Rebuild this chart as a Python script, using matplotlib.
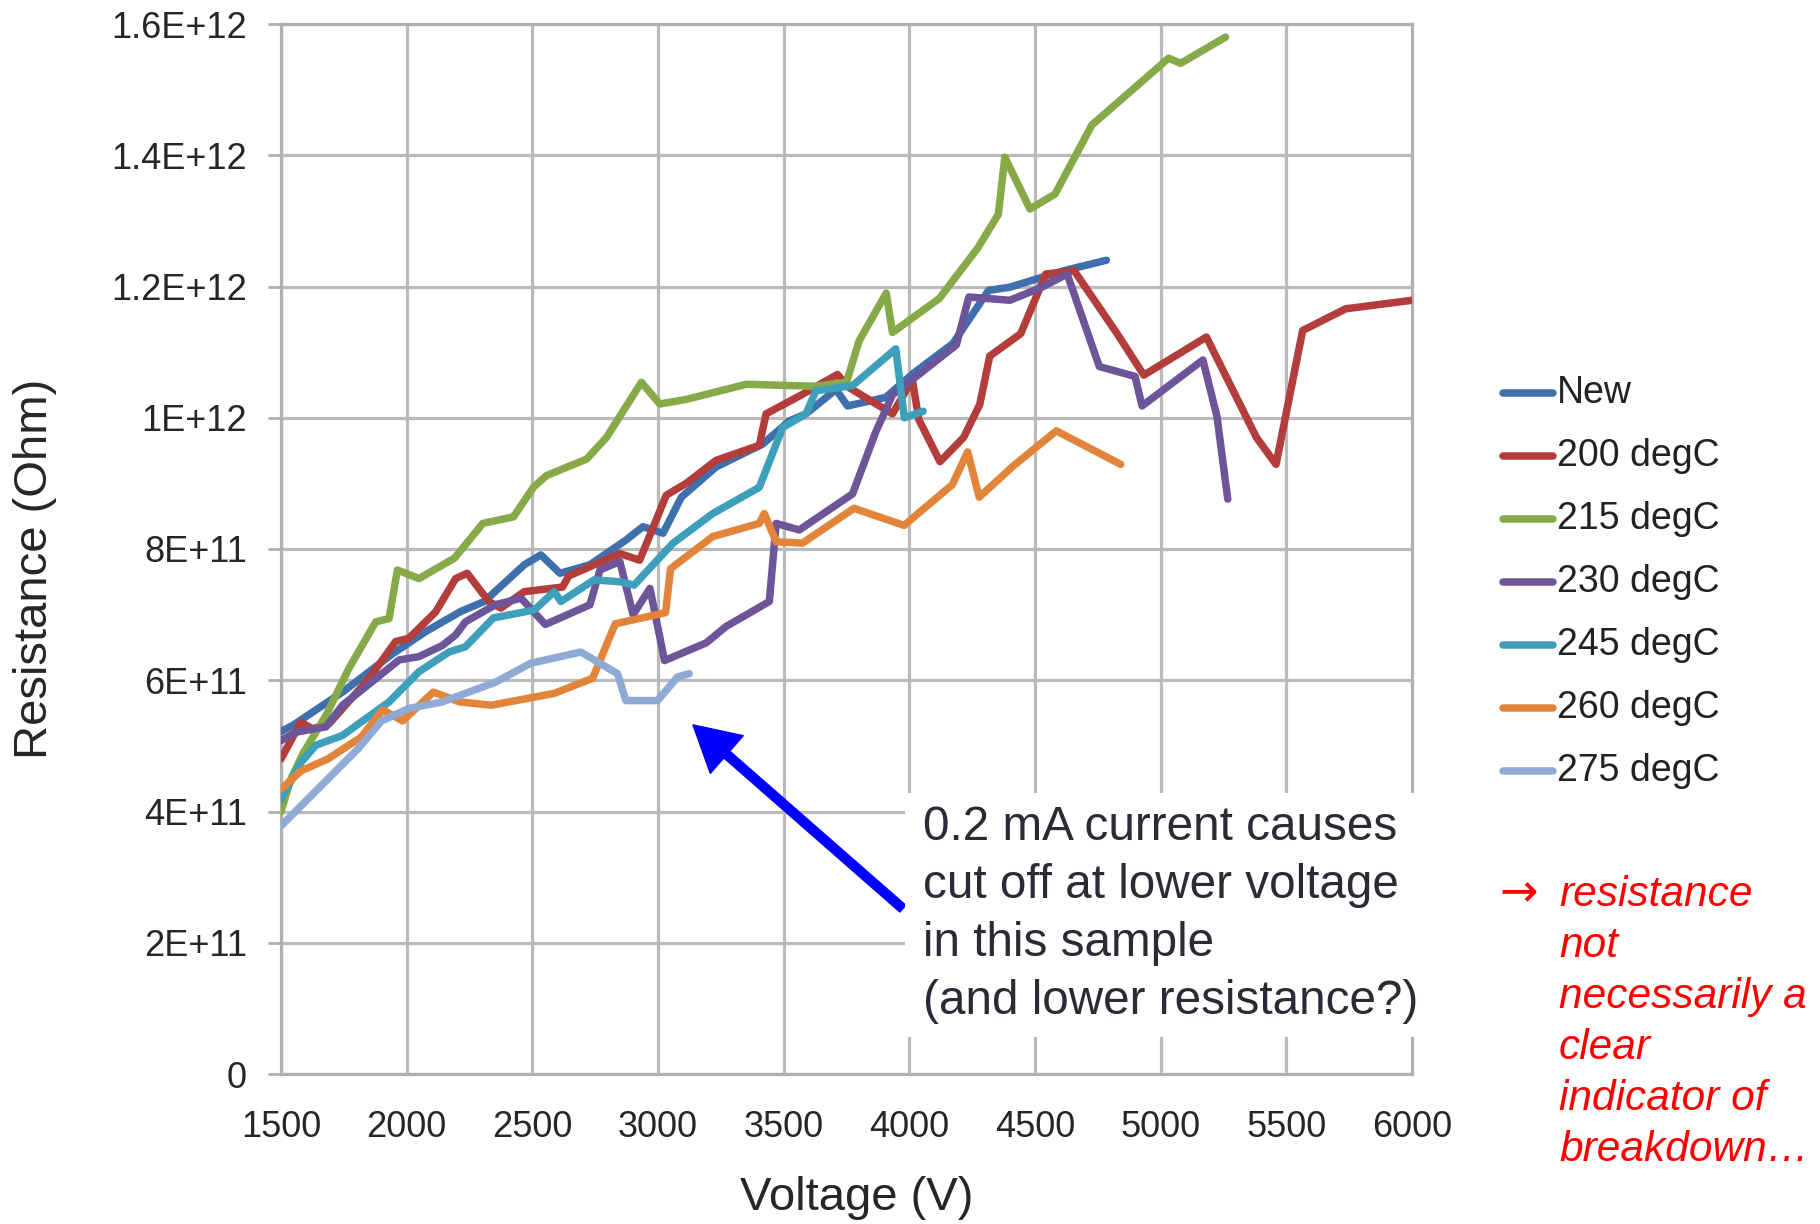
import matplotlib
matplotlib.use("Agg")
from matplotlib import pyplot as plt
from matplotlib.lines import Line2D
from matplotlib.patches import Rectangle

plt.rcParams['font.family'] = ['Liberation Sans', 'DejaVu Sans']

# voltage (V) / resistance (Ohm) per sample
v_new = [1500, 1546, 1745, 1943, 2075, 2216, 2309, 2468, 2534, 2610, 2729, 2874, 2940, 3020,
         3093, 3231, 3417, 3522, 3589, 3708, 3754, 3906, 4017, 4173, 4315, 4400, 4614, 4784]
r_new = [5.22e11, 5.31e11, 5.82e11, 6.40e11, 6.74e11, 7.05e11, 7.20e11, 7.76e11, 7.91e11, 7.63e11,
         7.76e11, 8.14e11, 8.34e11, 8.24e11, 8.79e11, 9.25e11, 9.60e11, 9.95e11, 1.006e12, 1.043e12,
         1.018e12, 1.031e12, 1.068e12, 1.113e12, 1.194e12, 1.199e12, 1.224e12, 1.240e12]

v_200 = [1500, 1579, 1626, 1692, 1851, 1956, 2009, 2115, 2195, 2241, 2327, 2375, 2468, 2620,
         2645, 2848, 2927, 3033, 3112, 3231, 3403, 3430, 3562, 3714, 3760, 3933, 4012, 4038,
         4122, 4216, 4280, 4320, 4443, 4543, 4656, 4827, 4933, 5182, 5381, 5459, 5565, 5736, 6000]
r_200 = [4.80e11, 5.36e11, 5.26e11, 5.34e11, 6.03e11, 6.59e11, 6.64e11, 7.04e11, 7.55e11, 7.63e11,
         7.20e11, 7.10e11, 7.35e11, 7.42e11, 7.59e11, 7.93e11, 7.83e11, 8.82e11, 9.00e11, 9.35e11,
         9.58e11, 1.006e12, 1.033e12, 1.066e12, 1.046e12, 1.006e12, 1.058e12, 9.97e11, 9.33e11,
         9.70e11, 1.020e12, 1.094e12, 1.128e12, 1.219e12, 1.224e12, 1.128e12, 1.065e12, 1.123e12,
         9.70e11, 9.29e11, 1.133e12, 1.166e12, 1.179e12]

v_215 = [1500, 1540, 1590, 1680, 1770, 1877, 1930, 1963, 2049, 2190, 2303, 2425, 2504, 2557,
         2716, 2795, 2934, 3007, 3113, 3351, 3628, 3750, 3800, 3908, 3933, 4120, 4273, 4354,
         4380, 4480, 4580, 4726, 5032, 5079, 5258]
r_215 = [4.00e11, 4.50e11, 4.90e11, 5.47e11, 6.18e11, 6.89e11, 6.94e11, 7.68e11, 7.55e11, 7.86e11,
         8.39e11, 8.49e11, 8.94e11, 9.12e11, 9.37e11, 9.70e11, 1.054e12, 1.021e12, 1.028e12,
         1.051e12, 1.048e12, 1.054e12, 1.117e12, 1.190e12, 1.130e12, 1.182e12, 1.259e12, 1.310e12,
         1.397e12, 1.318e12, 1.341e12, 1.446e12, 1.548e12, 1.540e12, 1.580e12]

v_230 = [1500, 1560, 1679, 1745, 1837, 1970, 2049, 2142, 2195, 2234, 2353, 2455, 2552, 2729,
         2769, 2848, 2901, 2968, 3026, 3192, 3271, 3443, 3470, 3562, 3774, 3866, 3933, 4045,
         4187, 4237, 4400, 4528, 4628, 4756, 4898, 4926, 5168, 5224, 5267]
r_230 = [5.08e11, 5.21e11, 5.29e11, 5.62e11, 5.90e11, 6.31e11, 6.36e11, 6.53e11, 6.69e11, 6.89e11,
         7.15e11, 7.25e11, 6.85e11, 7.15e11, 7.68e11, 7.81e11, 7.00e11, 7.40e11, 6.30e11, 6.57e11,
         6.82e11, 7.20e11, 8.39e11, 8.29e11, 8.84e11, 9.78e11, 1.035e12, 1.068e12, 1.111e12,
         1.184e12, 1.179e12, 1.199e12, 1.219e12, 1.078e12, 1.063e12, 1.018e12, 1.088e12, 1.002e12,
         8.76e11]

v_245 = [1500, 1580, 1639, 1745, 1930, 2049, 2168, 2234, 2345, 2508, 2587, 2614, 2746, 2852,
         2905, 3060, 3218, 3403, 3496, 3589, 3628, 3774, 3946, 3980, 4055]
r_245 = [4.19e11, 4.75e11, 5.01e11, 5.16e11, 5.67e11, 6.13e11, 6.43e11, 6.51e11, 6.95e11, 7.07e11,
         7.35e11, 7.20e11, 7.53e11, 7.50e11, 7.45e11, 8.09e11, 8.54e11, 8.94e11, 9.85e11, 1.006e12,
         1.041e12, 1.049e12, 1.105e12, 1.000e12, 1.010e12]

v_260 = [1500, 1580, 1686, 1818, 1905, 1984, 2106, 2210, 2337, 2587, 2740, 2830, 3030, 3050,
         3218, 3403, 3423, 3470, 3575, 3780, 3979, 4171, 4232, 4278, 4415, 4585, 4841]
r_260 = [4.34e11, 4.62e11, 4.80e11, 5.13e11, 5.55e11, 5.38e11, 5.82e11, 5.67e11, 5.62e11, 5.80e11,
         6.03e11, 6.86e11, 7.03e11, 7.70e11, 8.19e11, 8.39e11, 8.54e11, 8.11e11, 8.09e11, 8.62e11,
         8.36e11, 8.98e11, 9.48e11, 8.79e11, 9.27e11, 9.80e11, 9.29e11]

v_275 = [1500, 1805, 1900, 2009, 2142, 2353, 2494, 2693, 2839, 2872, 2998, 3078, 3124]
r_275 = [3.78e11, 4.95e11, 5.38e11, 5.57e11, 5.67e11, 5.97e11, 6.26e11, 6.43e11, 6.10e11,
         5.69e11, 5.69e11, 6.05e11, 6.10e11]

names = ['New', '200 degC', '215 degC', '230 degC', '245 degC', '260 degC', '275 degC']
volts = [v_new, v_200, v_215, v_230, v_245, v_260, v_275]
res = [r_new, r_200, r_215, r_230, r_245, r_260, r_275]
colors = ['#3f70ad', '#b23d3b', '#86aa48', '#6e5498', '#3d9fba', '#e2843a', '#8faad4']

xticks = [1500, 2000, 2500, 3000, 3500, 4000, 4500, 5000, 5500, 6000]
yticks = [0, 2e11, 4e11, 6e11, 8e11, 1e12, 1.2e12, 1.4e12, 1.6e12]
ytick_labels = ['0', '2E+11', '4E+11', '6E+11', '8E+11', '1E+12', '1.2E+12', '1.4E+12', '1.6E+12']

note = ['0.2 mA current causes', 'cut off at lower voltage', 'in this sample',
        '(and lower resistance?)']
remark = ['resistance', 'not', 'necessarily a', 'clear', 'indicator of', 'breakdown\u2026']

W, H = 1820, 1224


def fx(px):
    return px / W


def fy(py):
    return 1 - py / H


fig = plt.figure(figsize=(W / 100, H / 100), dpi=100)
ax = fig.add_axes([fx(281), fy(1074), (1412 - 281) / W, (1074 - 24) / H])

for v, r, c in zip(volts, res, colors):
    ax.plot(v, r, color=c, lw=5.4, solid_joinstyle='round', solid_capstyle='round', zorder=3)

ax.set_xlim(1500, 6000)
ax.set_ylim(0, 1.6e12)
ax.set_xticks(xticks)
ax.set_yticks(yticks)
ax.set_yticklabels(ytick_labels)
ax.grid(True, color='#bababa', lw=2.3)
ax.set_axisbelow(True)
for s in ax.spines.values():
    s.set_color('#b0b0b0')
    s.set_linewidth(2.3)
ax.tick_params(axis='y', length=9.5, width=2, color='#b0b0b0', pad=15, labelsize=26, labelcolor='#262626')
ax.tick_params(axis='x', length=0, pad=26, labelsize=26, labelcolor='#262626')

fig.text(fx(35), fy(569), 'Resistance (Ohm)', rotation=90, ha='center', va='center',
         fontsize=34, color='#262626')
fig.text(fx(857), fy(1198), 'Voltage (V)', ha='center', va='center', fontsize=34, color='#262626')

# legend at the right of the plot
for i, (name, c) in enumerate(zip(names, colors)):
    y = fy(393 + i * 63)
    fig.add_artist(Line2D([fx(1503), fx(1553)], [y, y], color=c, lw=5.4,
                          solid_capstyle='round', transform=fig.transFigure))
    fig.text(fx(1557), y, name, ha='left', va='center', fontsize=27, color='#222222')

# white box with the note, arrow pointing at the 275 degC curve
fig.add_artist(Rectangle((fx(905), fy(1037)), (1425 - 905) / W, (1037 - 793) / H,
                         facecolor='white', edgecolor='none', transform=fig.transFigure, zorder=2))
for i, line in enumerate(note):
    fig.text(fx(923), fy(840 + i * 58), line, ha='left', va='baseline', fontsize=34.3,
             color='#2b2b35', zorder=4)

ax.annotate('', xy=(3139, 5.32e11), xytext=(3974, 2.52e11), annotation_clip=False,
            arrowprops=dict(arrowstyle='simple,tail_width=0.18,head_width=1.0,head_length=0.9',
                            mutation_scale=36, color='#0000ff', shrinkA=0, shrinkB=0), zorder=5)

fig.text(fx(1499), fy(906), '\u2192', ha='left', va='baseline', fontsize=33, color='#ff0000',
         family='DejaVu Sans')
for i, line in enumerate(remark):
    fig.text(fx(1559), fy(906 + i * 51), line, ha='left', va='baseline', fontsize=30.5,
             style='italic', color='#ff0000')

fig.savefig('out.png', dpi=100)
